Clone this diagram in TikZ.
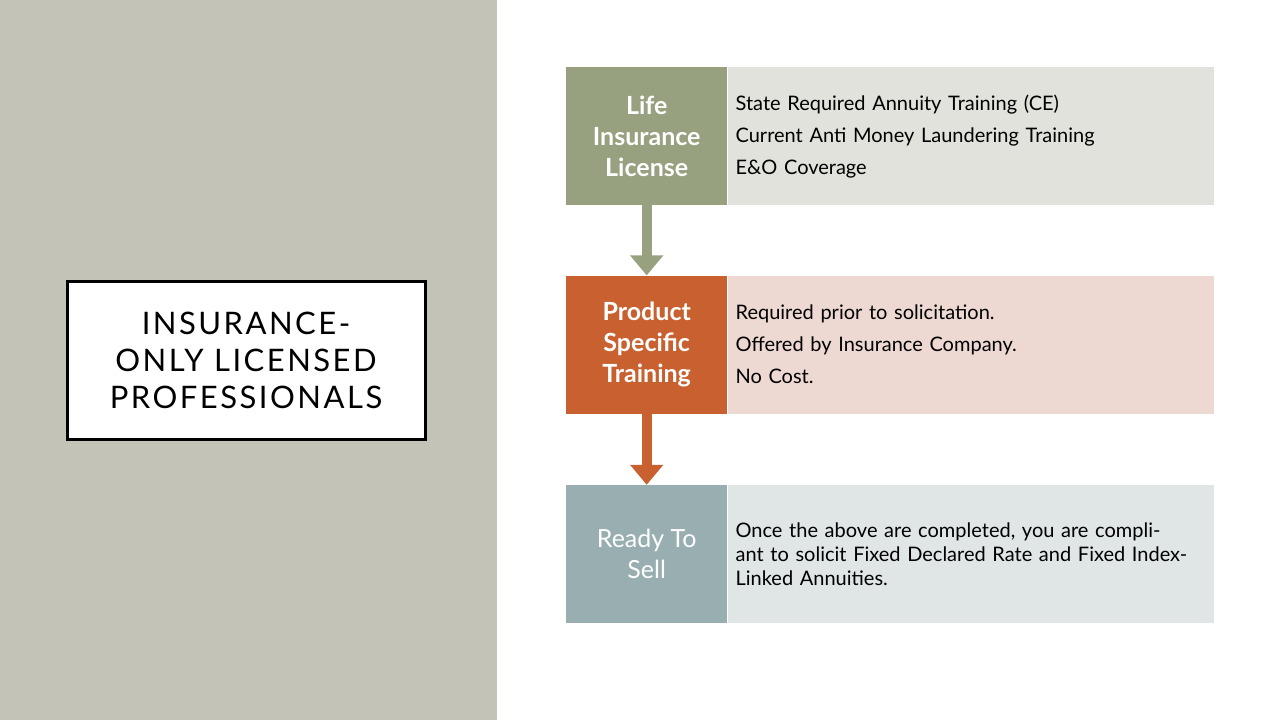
\documentclass[tikz,border=0pt]{standalone}
\usepackage{fontspec}
\setmainfont{Lato}
\usetikzlibrary{positioning,arrows.meta}
\definecolor{panel}{HTML}{C4C3B7}
\definecolor{lifeD}{HTML}{97A07F}
\definecolor{lifeL}{HTML}{E2E2DC}
\definecolor{prodD}{HTML}{C8612F}
\definecolor{prodL}{HTML}{EDD8D2}
\definecolor{sellD}{HTML}{98AEB0}
\definecolor{sellL}{HTML}{E0E5E6}

\tikzset{
	headbox/.style={minimum width=161pt, minimum height=138pt, inner sep=0pt,
		align=center, text=white, font=\fontsize{25}{31}\selectfont\bfseries},
	infobox/.style={minimum width=486pt, minimum height=138pt, inner sep=0pt,
		text width=470pt, align=left, font=\fontsize{20}{32}\selectfont},
	flow/.style={line width=10pt, -{Triangle[width=32pt,length=20pt]}}
}

\begin{document}
\begin{tikzpicture}[x=1pt,y=-1pt]

\useasboundingbox (0,0) rectangle (1280,720);
\fill[panel] (0,0) rectangle (497,720);

% Title
\node [draw, line width=3pt, fill=white,
	minimum width=358pt,
	minimum height=158pt,
	align=center,
	font=\fontsize{31}{37}\selectfont,
] (title) at (246,360) {
\addfontfeature{LetterSpace=8}INSURANCE-\\\addfontfeature{LetterSpace=8}ONLY LICENSED\\\addfontfeature{LetterSpace=8}PROFESSIONALS
};

% Life insurance license
\node [headbox, fill=lifeD, anchor=north west] (life) at (566,67) {Life\\Insurance\\License};
\node [infobox, fill=lifeL, right = 0pt of life] (life_info) {
State Required Annuity Training (CE)\\
Current Anti Money Laundering Training\\
E\&O Coverage
};

% Product specific training
\node [headbox, fill=prodD, below = 70pt of life] (product) {Product\\Specific\\Training};
\node [infobox, fill=prodL, right = 0pt of product] (product_info) {
Required prior to solicitation.\\
Offered by Insurance Company.\\
No Cost.
};

% Ready to sell
\node [headbox, fill=sellD, below = 71pt of product, font=\fontsize{25}{31}\selectfont] (sell) {Ready To\\Sell};
\node [infobox, fill=sellL, right = 0pt of sell, font=\fontsize{20}{24}\selectfont] (sell_info) {
Once the above are completed, you are compliant to solicit Fixed Declared Rate and Fixed Index-Linked Annuities.
};

% Arrows
\draw[flow, lifeD] (life.south) -- (product.north);
\draw[flow, prodD] (product.south) -- (sell.north);

\end{tikzpicture}
\end{document}
